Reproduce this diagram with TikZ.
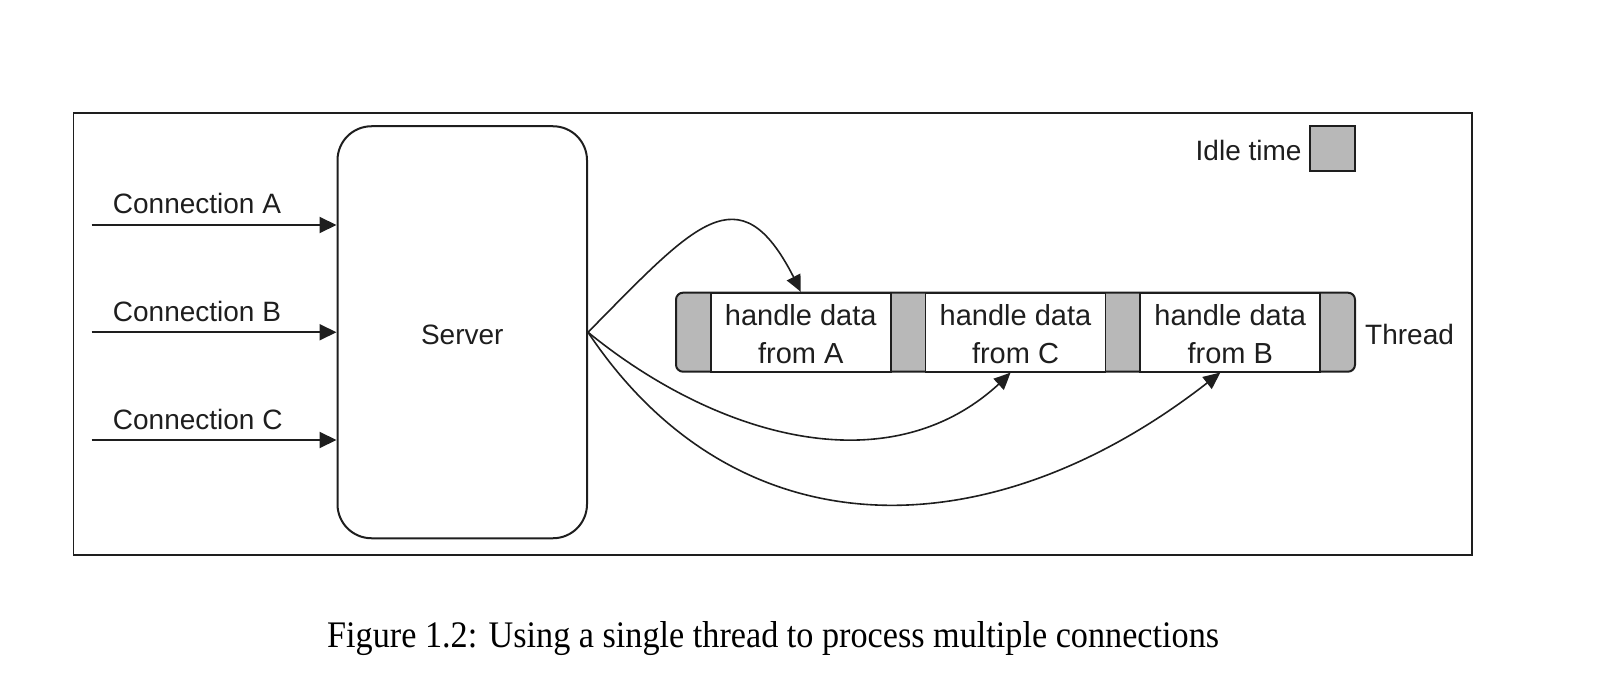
\documentclass[tikz,border=0pt]{standalone}
\usepackage{fontspec}
\setmainfont{Liberation Sans}
\newfontfamily\capfont[FakeStretch=0.912]{Liberation Serif}
\usetikzlibrary{arrows.meta,bending}
\definecolor{ink}{RGB}{30,30,30}
\definecolor{idle}{RGB}{184,184,184}
\tikzset{
  lbl/.style={font=\fontsize{28}{34}\selectfont, text=ink, inner sep=0pt},
  conn/.style={draw=ink, line width=2pt, -{Triangle[length=17pt,width=16pt]}},
  curv/.style={draw=ink, line width=1.6pt, -{Triangle[length=17pt,width=15pt,bend]}},
  frame/.style={draw=ink, line width=1.8pt},
  serverbox/.style={draw=ink, line width=2pt, rounded corners=34pt, minimum width=249.5pt, minimum height=412pt, inner sep=0pt},
  barbox/.style={draw=ink, line width=2pt, fill=idle, rounded corners=7pt, minimum width=679pt, minimum height=79pt, inner sep=0pt},
  workbox/.style={draw=ink, line width=1.6pt, fill=white, minimum width=180pt, minimum height=79pt, inner sep=0pt, align=center,
    font=\fontsize{29}{38}\selectfont, text=ink},
  legendbox/.style={draw=ink, line width=2pt, fill=idle, minimum width=45pt, minimum height=45pt, inner sep=0pt},
}
\begin{document}
\begin{tikzpicture}[x=1pt, y=-1pt]
\useasboundingbox (0,0) rectangle (1604,682);
% outer frame
\draw[frame] (73.5,112.7) rectangle (1471.7,555);

% server
\node[serverbox] (server) at (462.25,332.25) {};
\node[lbl] (srvtxt) at ([yshift=-3pt]server.center) {Server};

% incoming connections
\coordinate (ca) at (91.7,225);
\coordinate (cb) at (91.7,332.25);
\coordinate (cc) at (91.7,440);
\node[lbl, anchor=base west] (la) at (112.7,213.3) {Connection A};
\node[lbl, anchor=base west] (lb) at (112.7,321.2) {Connection B};
\node[lbl, anchor=base west] (lc) at (112.7,429) {Connection C};
\draw[conn] (ca) -- (ca -| server.west);
\draw[conn] (cb) -- (cb -| server.west);
\draw[conn] (cc) -- (cc -| server.west);

% thread bar
\node[barbox] (bar) at (1015.5,332.2) {};
\node[workbox] (boxA) at (800.75,332.2) {\rule{0pt}{25pt}handle data\\from A};
\node[workbox] (boxC) at (1015.5,332.2) {\rule{0pt}{25pt}handle data\\from C};
\node[workbox] (boxB) at (1230.25,332.2) {\rule{0pt}{25pt}handle data\\from B};
\node[lbl, anchor=base west] (thread) at (1365,344.5) {Thread};

% legend
\node[legendbox] (idlebox) at (1332.5,148.9) {};
\node[lbl, anchor=base east] (idle) at (1301.7,160.3) {Idle time};

% dispatch curves
\draw[curv] (server.east) .. controls (699,220) and (742.9,165.9) .. (boxA.north);
\draw[curv] (server.east) .. controls (720,440) and (900,490) .. ([xshift=-5pt]boxC.south);
\draw[curv] (server.east) .. controls (740,560) and (1000,552) .. ([xshift=-10pt]boxB.south);

% caption
\node[anchor=base west, inner sep=0pt, font=\capfont\fontsize{37.5}{40}\selectfont, text=black] (caption) at (327,647)
  {Figure 1.2: Using a single thread to process multiple connections};
\end{tikzpicture}
\end{document}
